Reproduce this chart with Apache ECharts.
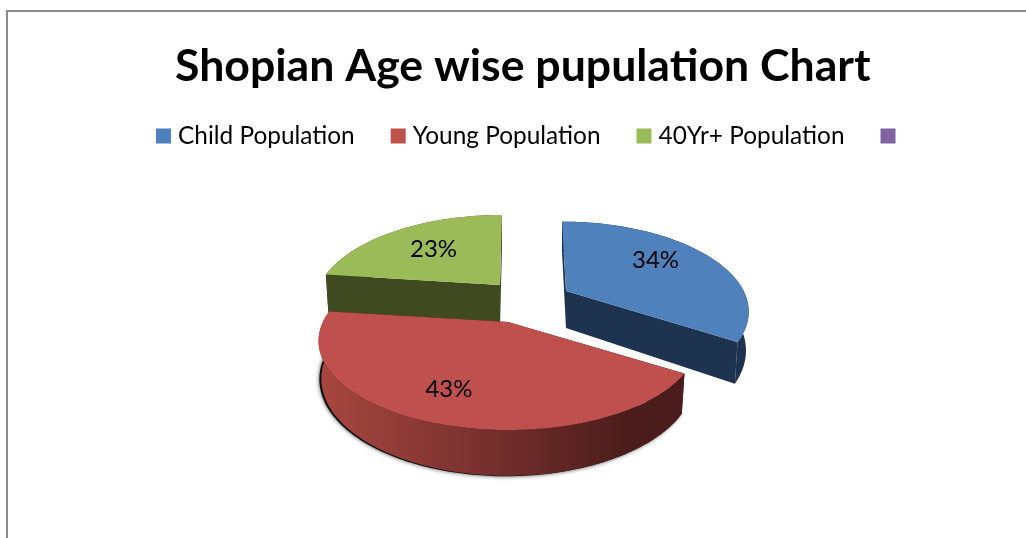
<!DOCTYPE html>
<html>
<head>
<meta charset="utf-8">
<style>html,body{margin:0;padding:0;background:#fff}#c{width:1026px;height:538px}</style>
<script src="https://cdn.jsdelivr.net/npm/echarts@6/dist/echarts.min.js"></script>
</head>
<body>
<div id="c"></div>
<script>
var titleText = 'Shopian Age wise pupulation Chart';
var categories = ['Child Population', 'Young Population', '40Yr+ Population'];
var values = [34, 43, 23];
var blankLegendName = ' ';

var topColors = ['#4f81bd', '#c0504d', '#9bbb59'];
var sideColors = ['#1e3350', '#4a1c1b', '#404a20'];
var blankColor = '#8064a2';

// Layout of the tilted, exploded disc: one apex per slice
var apexX = [566, 508, 500];
var apexY = [291, 322, 285];
var lean = [-4, 0, 2];
var xScale = [0.95, 0.99, 0.965];
var yScale = [0.99, 1, 1];
var wallHeight = [37, 36, 41];
var labelRadius = [0.62, 0.7, 0.6];
var labelNudge = [[0, -7], [-8, 2], [-2, -1]];
var RX = 187, RY = 85, PERSP = 0.213;

var total = values.reduce(function (a, b) { return a + b; }, 0);
var startAngles = [];
values.reduce(function (acc, v, i) { startAngles[i] = acc; return acc + v / total * 360; }, 0);

function project(i, deg, r, low) {
  var t = deg * Math.PI / 180;
  var u = r * Math.sin(t), v = r * Math.cos(t);
  var w = 1 + PERSP * v;
  var x = apexX[i] + xScale[i] * RX * u / w + lean[i] * v;
  var y = apexY[i] - yScale[i] * RY * v / w;
  if (low) {
    x = apexX[i] + (x - apexX[i]) * 0.985;
    y += wallHeight[i] / w;
  }
  return [x, y];
}
function arc(i, a, b, low) {
  var pts = [], n = Math.ceil(Math.abs(b - a));
  for (var k = 0; k <= n; k++) pts.push(project(i, a + (b - a) * k / n, 1, low));
  return pts;
}
function poly(points, style, z2) {
  return { type: 'polygon', shape: { points: points }, style: style, z2: z2 || 0, silent: true };
}
function renderSlice(i) {
  return function (params, api) {
    var a = startAngles[i], b = a + api.value(0) / total * 360;
    var apexT = project(i, 0, 0, false), apexB = project(i, 0, 0, true);
    var side = { fill: sideColors[i] };
    var children = [];
    var wallFill = side.fill;
    if (i === 1) {
      wallFill = { type: 'linear', x: 0, y: 0, x2: 1, y2: 0, colorStops: [
        { offset: 0, color: '#a8473f' }, { offset: 0.45, color: '#78302e' }, { offset: 0.85, color: '#4a1c1b' }, { offset: 1, color: '#4a1c1b' }
      ] };
      var shadowPts = arc(i, a, b, true).map(function (p) { return [p[0] - 2, p[1] + 0.5]; });
      children.push(poly(shadowPts, { fill: '#111', shadowBlur: 4, shadowColor: 'rgba(0,0,0,0.7)' }, 0));
    }
    children.push(poly([apexT, project(i, a, 1, false), project(i, a, 1, true), apexB], side, 1));
    children.push(poly([apexT, project(i, b, 1, false), project(i, b, 1, true), apexB], side, 1));
    children.push(poly(arc(i, a, b, false).concat(arc(i, a, b, true).reverse()), { fill: wallFill }, 2));
    children.push(poly([apexT].concat(arc(i, a, b, false)), { fill: topColors[i] }, 3));
    var mid = project(i, (a + b) / 2, labelRadius[i], false);
    children.push({
      type: 'text', z2: 4, silent: true,
      style: { x: mid[0] + labelNudge[i][0], y: mid[1] + labelNudge[i][1], text: api.value(0) + '%', fill: '#000',
               align: 'center', verticalAlign: 'middle', fontFamily: 'Lato, sans-serif', fontSize: 24 }
    });
    return { type: 'group', children: children };
  };
}

var series = categories.map(function (name, i) {
  return {
    type: 'custom', name: name, coordinateSystem: 'none', z: i === 1 ? 3 : 2,
    itemStyle: { color: topColors[i] },
    renderItem: renderSlice(i),
    data: [[values[i]]], animation: false, silent: true
  };
});
series.push({
  type: 'custom', name: blankLegendName, coordinateSystem: 'none',
  itemStyle: { color: blankColor },
  renderItem: function () { return { type: 'group', children: [] }; },
  data: [[0]], animation: false, silent: true
});

var chart = echarts.init(document.getElementById('c'), null, { renderer: 'canvas' });
chart.setOption({
  animation: false,
  backgroundColor: '#fff',
  title: {
    text: titleText, left: 175, top: 44, padding: 0,
    textStyle: { fontFamily: 'Lato, sans-serif', fontWeight: 'bold', fontSize: 44.6, color: '#000' }
  },
  legend: {
    left: 156, top: 124, padding: 0, itemGap: 36, itemWidth: 15, itemHeight: 15, icon: 'rect',
    selectedMode: false,
    data: categories.concat([blankLegendName]),
    textStyle: { fontFamily: 'Lato, sans-serif', fontSize: 24.4, color: '#000', padding: [0, 0, 0, 2] }
  },
  graphic: [{
    type: 'rect', silent: true, z: 0,
    shape: { x: 7, y: 11, width: 1200, height: 700 },
    style: { fill: 'none', stroke: '#8a8a8a', lineWidth: 2 }
  }],
  series: series
});
</script>
</body>
</html>
